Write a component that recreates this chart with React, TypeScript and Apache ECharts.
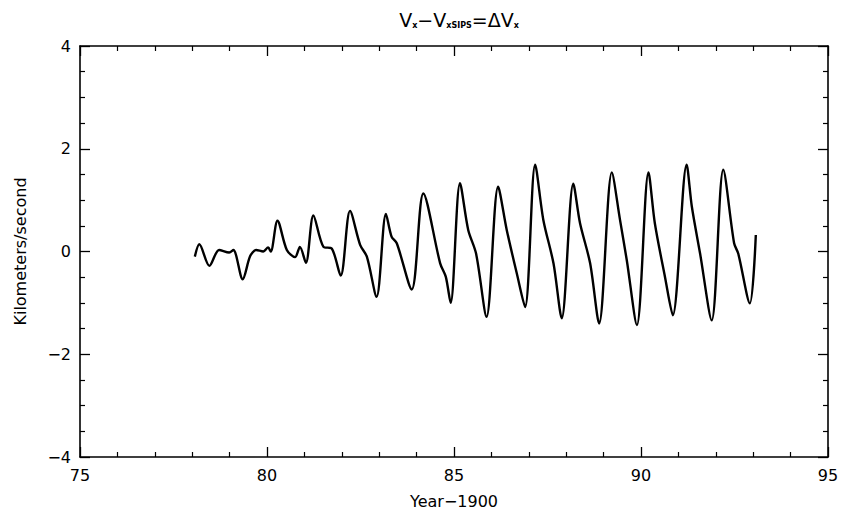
import React, { useEffect, useRef } from "react";
import * as echarts from "echarts";

const years: number[] = [
  78.07, 78.19, 78.46, 78.72, 78.99, 79.1, 79.35, 79.55, 79.71, 79.9, 80.03, 80.1, 80.28, 80.53, 80.75,
  80.88, 81.04, 81.24, 81.51, 81.73, 81.97, 82.22, 82.49, 82.67, 82.93, 83.18, 83.33, 83.47, 83.87, 84.18,
  84.63, 84.78, 84.91, 85.16, 85.38, 85.59, 85.87, 86.18, 86.41, 86.68, 86.9, 87.17, 87.39, 87.66, 87.88,
  88.19, 88.37, 88.64, 88.88, 89.22, 89.44, 89.62, 89.89, 90.2, 90.37, 90.64, 90.85, 91.22, 91.36, 91.58,
  91.89, 92.2, 92.49, 92.6, 92.91, 93.07,
];
const deltaVx: number[] = [
  -0.1, 0.14, -0.28, 0.03, -0.02, 0.03, -0.54, -0.09, 0.03, 0.0, 0.08, 0.0, 0.6, 0.03, -0.11,
  0.09, -0.22, 0.7, 0.09, 0.06, -0.47, 0.79, 0.13, -0.1, -0.88, 0.73, 0.29, 0.16, -0.74, 1.13,
  -0.23, -0.49, -1.0, 1.33, 0.42, -0.04, -1.27, 1.26, 0.42, -0.43, -1.08, 1.69, 0.61, -0.23, -1.3,
  1.32, 0.55, -0.23, -1.4, 1.54, 0.61, -0.17, -1.43, 1.54, 0.55, -0.49, -1.24, 1.69, 0.87, -0.04,
  -1.34, 1.59, 0.16, -0.04, -1.01, 0.32,
];

const FONT = "DejaVu Sans";

const fmt = (v: number) => (v < 0 ? "\u2212" + Math.abs(v) : String(v));

export default function App() {
  const ref = useRef<HTMLDivElement>(null);
  useEffect(() => {
    if (!ref.current) return;
    const chart = echarts.init(ref.current, null, { renderer: "svg" });
    const axisLine = { show: true, onZero: false, lineStyle: { color: "#000", width: 1.6 } };
    const tick = { show: true, inside: true, length: 10, lineStyle: { color: "#000", width: 1.3 } };
    const minorTick = { show: true, splitNumber: 5, length: 5, lineStyle: { color: "#000", width: 1.2 } };
    const yMinorTick = { show: true, splitNumber: 4, length: 5, lineStyle: { color: "#000", width: 1.2 } };
    const label = { color: "#000", fontSize: 16, fontFamily: FONT, formatter: fmt };
    chart.setOption({
      animation: false,
      backgroundColor: "#fff",
      title: {
        text: "{a|V}{s|x}{a|\u2212V}{s|xSIPS}{a|=\u0394V}{s|x}",
        left: 454,
        textAlign: "center",
        top: 0,
        textStyle: {
          rich: {
            a: { fontSize: 19, fontFamily: FONT, fontWeight: "normal", color: "#000", lineHeight: 24, verticalAlign: "bottom" },
            s: { fontSize: 8, fontFamily: FONT, fontWeight: "bold", color: "#000", lineHeight: 9, verticalAlign: "bottom" },
          },
        },
      },
      grid: { left: 80, right: 14, top: 46, bottom: 69 },
      xAxis: [
        {
          type: "value",
          min: 75,
          max: 95,
          interval: 5,
          position: "bottom",
          axisLine,
          axisTick: tick,
          minorTick,
          splitLine: { show: false },
          axisLabel: { ...label, margin: 10 },
          name: "Year\u22121900",
          nameLocation: "middle",
          nameGap: 36,
          nameTextStyle: { color: "#000", fontSize: 16, fontFamily: FONT },
        },
        {
          type: "value",
          min: 75,
          max: 95,
          interval: 5,
          position: "top",
          axisLine,
          axisTick: tick,
          minorTick,
          splitLine: { show: false },
          axisLabel: { show: false },
        },
      ],
      yAxis: [
        {
          type: "value",
          min: -4,
          max: 4,
          interval: 2,
          position: "left",
          axisLine,
          axisTick: tick,
          minorTick: yMinorTick,
          splitLine: { show: false },
          axisLabel: { ...label, margin: 9 },
          name: "Kilometers/second",
          nameLocation: "middle",
          nameGap: 52,
          nameTextStyle: { color: "#000", fontSize: 16, fontFamily: FONT },
        },
        {
          type: "value",
          min: -4,
          max: 4,
          interval: 2,
          position: "right",
          axisLine,
          axisTick: tick,
          minorTick: yMinorTick,
          splitLine: { show: false },
          axisLabel: { show: false },
        },
      ],
      series: [
        {
          type: "line",
          data: years.map((y, i) => [y, deltaVx[i]]),
          showSymbol: false,
          smooth: 0.3,
          lineStyle: { color: "#000", width: 2.4 },
          xAxisIndex: 0,
          yAxisIndex: 0,
        },
      ],
    });
    return () => chart.dispose();
  }, []);
  return <div ref={ref} style={{ position: "fixed", left: 0, top: 0, width: 842, height: 526 }} />;
}
